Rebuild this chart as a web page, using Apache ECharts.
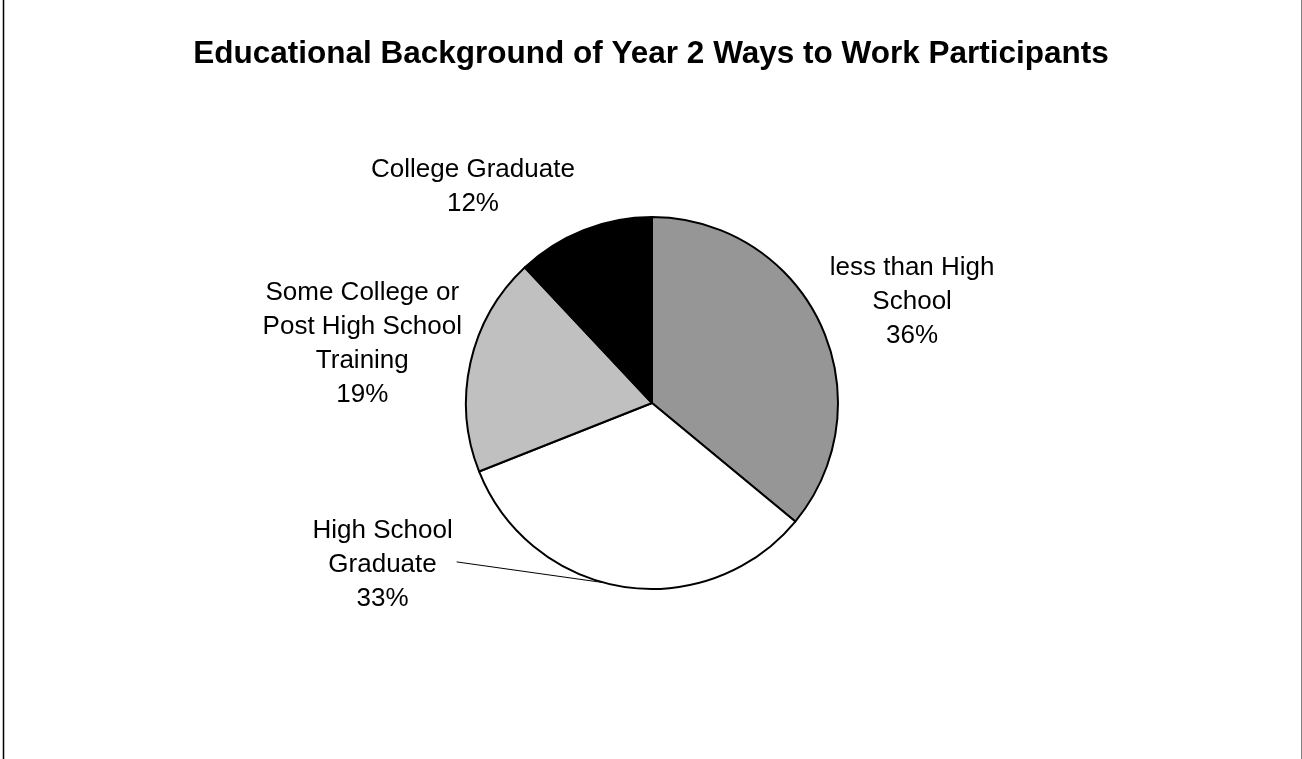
<!DOCTYPE html>
<html>
<head>
<meta charset="utf-8">
<title>Educational Background of Year 2 Ways to Work Participants</title>
<script src="https://cdn.jsdelivr.net/npm/echarts@6/dist/echarts.min.js"></script>
<style>
  html, body { margin: 0; padding: 0; background: #ffffff; }
  #chart { width: 1302px; height: 759px; }
</style>
</head>
<body>
<div id="chart"></div>
<script>
// Education levels, clockwise from twelve o'clock
const categories = [
  'less than High\nSchool',
  'High School\nGraduate',
  'Some College or\nPost High School\nTraining',
  'College Graduate'
];
// Share of participants, in percent
const shares = [36, 33, 19, 12];

// Styling
const sliceColors = ['#969696', '#ffffff', '#c0c0c0', '#000000'];
// Label placement: distance from the centre in radii, and a turn (degrees) away from the slice's middle
const labelReach = [1.50, 1.69, 1.59, 1.51];
const labelTurn = [4, 50, -1, -18];
// Only this slice's label is tied to its slice with a leader line
const leaderSlice = 1;
const leaderTurn = 6;

const pieCenter = [652, 403];
const pieRadius = 186;
const fontFamily = "'Liberation Sans', Arial, sans-serif";

const total = shares.reduce((a, b) => a + b, 0);
function midAngle(i) {
  let before = 0;
  for (let k = 0; k < i; k++) before += shares[k];
  return (before + shares[i] / 2) / total * 360;
}
function polar(angleDeg, dist) {
  const a = angleDeg * Math.PI / 180;
  return [pieCenter[0] + dist * Math.sin(a), pieCenter[1] - dist * Math.cos(a)];
}

const chart = echarts.init(document.getElementById('chart'), null, { renderer: 'canvas' });

chart.setOption({
  animation: false,
  backgroundColor: '#ffffff',
  title: {
    text: 'Educational Background of Year 2 Ways to Work Participants',
    left: 'center',
    top: 33,
    textStyle: {
      fontFamily: fontFamily,
      fontSize: 31.5,
      fontWeight: 'bold',
      color: '#000000'
    }
  },
  graphic: [
    { type: 'rect', left: 2.75, top: 0, shape: { width: 1.5, height: 759 }, style: { fill: '#000000' } },
    { type: 'rect', left: 1301, top: 0, shape: { width: 1, height: 759 }, style: { fill: '#808080' } }
  ],
  series: [{
    type: 'pie',
    center: pieCenter,
    radius: pieRadius,
    startAngle: 90,
    clockwise: true,
    avoidLabelOverlap: false,
    itemStyle: { borderColor: '#000000', borderWidth: 2 },
    label: {
      show: true,
      position: 'outside',
      fontFamily: fontFamily,
      fontSize: 26,
      lineHeight: 34,
      color: '#000000',
      formatter: p => p.name + '\n' + p.value + '%'
    },
    labelLine: { show: false },
    labelLayout: function (p) {
      const i = p.dataIndex;
      const mid = midAngle(i);
      const pos = polar(mid + labelTurn[i], labelReach[i] * pieRadius);
      const out = { x: pos[0], y: pos[1], align: 'center', verticalAlign: 'middle' };
      if (i === leaderSlice) {
        const tip = polar(mid + leaderTurn, pieRadius);
        out.labelLinePoints = [
          [pos[0] + p.labelRect.width / 2 + 4, pos[1] - 3],
          tip
        ];
      }
      return out;
    },
    data: categories.map((name, i) => ({
      name: name,
      value: shares[i],
      itemStyle: { color: sliceColors[i] },
      labelLine: i === leaderSlice
        ? { show: true, lineStyle: { color: '#000000', width: 1 } }
        : { show: false }
    }))
  }]
});
</script>
</body>
</html>
